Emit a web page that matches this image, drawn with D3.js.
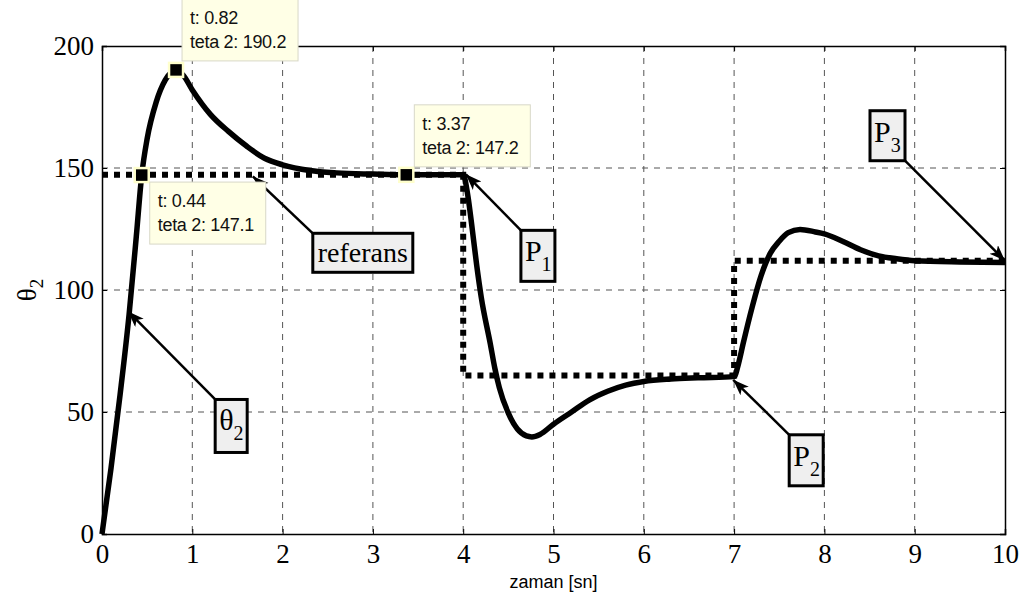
<!DOCTYPE html>
<html>
<head>
<meta charset="utf-8">
<script src="https://cdn.jsdelivr.net/npm/d3@7"></script>
<style>
  body { margin: 0; background: #fff; }
</style>
</head>
<body>
<svg id="chart" width="1027" height="603"></svg>
<script>
// response of joint 2 (degrees) over time (s)
const timeValues = [0, 0.1, 0.2, 0.3, 0.38, 0.44, 0.5, 0.6, 0.7, 0.82, 0.9, 1.0, 1.2, 1.4, 1.6, 1.8,
  2.0, 2.3, 2.6, 3.0, 3.37, 4.0, 4.05, 4.1, 4.15, 4.2, 4.3, 4.35, 4.4, 4.5, 4.6, 4.7, 4.76, 4.85,
  5.0, 5.2, 5.4, 5.6, 5.8, 6.0, 6.3, 6.6, 7.0, 7.05, 7.1, 7.2, 7.3, 7.4, 7.5, 7.6, 7.73, 7.9,
  8.0, 8.2, 8.4, 8.6, 8.8, 9.0, 9.5, 10];
const thetaValues = [0, 27, 57, 90, 122, 147.1, 162, 177, 186, 190.2, 188, 182, 172, 165, 159, 154,
  151.3, 149, 148, 147.5, 147.2, 147.2, 139, 125, 110, 97, 78, 68, 60, 49.5, 43, 40.2, 39.8, 40.8,
  45, 50, 55, 58.5, 61, 62.5, 63.5, 64, 64.5, 70, 78, 93, 106, 115, 120, 123.5, 124.8, 123.8,
  123, 120, 116.5, 114, 112.8, 112, 111.5, 111.3];

// step reference
const referenceTimes = [0, 4, 4, 7, 7, 10];
const referenceValues = [147.2, 147.2, 65, 65, 112, 112];

const xTickValues = [0, 1, 2, 3, 4, 5, 6, 7, 8, 9, 10];
const yTickValues = [0, 50, 100, 150, 200];

// data tips
const tipTimes = [0.82, 0.44, 3.37];
const tipValues = [190.2, 147.1, 147.2];
const tipLines = [["t: 0.82", "teta 2: 190.2"], ["t: 0.44", "teta 2: 147.1"], ["t: 3.37", "teta 2: 147.2"]];

// arrow notes
const noteNames = ["θ", "referans", "P", "P", "P"];
const noteSubs = ["2", "", "1", "2", "3"];
const noteTimes = [0.29, 1.67, 4.03, 6.99, 10];
const noteValues = [91.2, 146.6, 147.4, 63.2, 112];

const svg = d3.select("#chart");
const plotLeft = 102, plotRight = 1005, plotTop = 46, plotBottom = 534;
const serif = '"Liberation Serif", "Times New Roman", serif';
const sans = '"Liberation Sans", Arial, sans-serif';

const x = d3.scaleLinear().domain([0, 10]).range([plotLeft, plotRight]);
const y = d3.scaleLinear().domain([0, 200]).range([plotBottom, plotTop]);

// grid
let drawGrid = () => {
  let grid = svg.append("g").attr("class", "grid");
  grid.selectAll(".vgrid")
      .data(xTickValues.slice(1, -1))
      .enter()
      .append("line")
      .attr("x1", (d) => x(d)).attr("x2", (d) => x(d))
      .attr("y1", plotTop).attr("y2", plotBottom);
  grid.selectAll(".hgrid")
      .data(yTickValues.slice(1, -1))
      .enter()
      .append("line")
      .attr("x1", plotLeft).attr("x2", plotRight)
      .attr("y1", (d) => y(d)).attr("y2", (d) => y(d));
  grid.selectAll("line")
      .attr("stroke", "#555")
      .attr("stroke-width", 1)
      .attr("stroke-dasharray", "6,6");
};

let drawAxes = () => {
  let bottomAxis = svg.append("g")
     .attr("transform", `translate(0,${plotBottom})`)
     .call(d3.axisBottom(x).tickValues(xTickValues).tickSize(-5).tickPadding(10).tickFormat(d3.format("d")));
  let leftAxis = svg.append("g")
     .attr("transform", `translate(${plotLeft},0)`)
     .call(d3.axisLeft(y).tickValues(yTickValues).tickSize(-5).tickPadding(8).tickFormat(d3.format("d")));
  svg.append("g")
     .attr("transform", `translate(0,${plotTop})`)
     .call(d3.axisTop(x).tickValues(xTickValues).tickSize(-5).tickFormat(""));
  svg.append("g")
     .attr("transform", `translate(${plotRight},0)`)
     .call(d3.axisRight(y).tickValues(yTickValues).tickSize(-5).tickFormat(""));
  svg.selectAll(".domain").attr("stroke", "#000").attr("stroke-width", 1.5);
  svg.selectAll(".tick line").attr("stroke", "#000");
  svg.selectAll(".tick text")
     .style("font-family", serif)
     .style("font-size", "27px")
     .attr("fill", "#000");
  bottomAxis.selectAll(".tick text").attr("dy", "0.71em");
  leftAxis.selectAll(".tick text").attr("dy", "0.32em");

  svg.append("text")
     .attr("x", (plotLeft + plotRight) / 2)
     .attr("y", 588)
     .attr("text-anchor", "middle")
     .style("font-family", sans)
     .style("font-size", "18px")
     .text("zaman [sn]");

  let ylab = svg.append("text")
     .attr("transform", "translate(36,290) rotate(-90)")
     .attr("text-anchor", "middle")
     .style("font-family", serif)
     .style("font-size", "27px");
  ylab.append("tspan").text("θ");
  ylab.append("tspan").attr("dy", 7).style("font-size", "19px").text("2");
};

let drawLines = () => {
  let refLine = d3.line().x((d) => x(d[0])).y((d) => y(d[1]));
  svg.append("path")
     .attr("d", refLine(d3.zip(referenceTimes, referenceValues)))
     .attr("fill", "none")
     .attr("stroke", "#000")
     .attr("stroke-width", 6)
     .attr("stroke-dasharray", "6,6");

  let curve = d3.line().x((d) => x(d[0])).y((d) => y(d[1])).curve(d3.curveMonotoneX);
  svg.append("path")
     .attr("d", curve(d3.zip(timeValues, thetaValues)))
     .attr("fill", "none")
     .attr("stroke", "#000")
     .attr("stroke-width", 5.5)
     .attr("stroke-linejoin", "round");
};

let drawNotes = () => {
  svg.append("defs")
     .append("marker")
     .attr("id", "head")
     .attr("markerUnits", "userSpaceOnUse")
     .attr("markerWidth", 18).attr("markerHeight", 14)
     .attr("refX", 16).attr("refY", 6)
     .attr("orient", "auto")
     .append("path")
     .attr("d", "M0,0 L16,6 L0,12 L4,6 Z")
     .attr("fill", "#000");

  // box placement relative to arrow tip: [dx, dy, width, height, tail corner]
  const boxLayout = [[87, 88, 32, 53, "tl"], [60, 57, 100, 39, "tl"], [55, 56, 34, 51, "tl"],
                     [56, 55, 34, 51, "tl"], [-135, -150, 35, 50, "br"]];

  noteNames.forEach((name, i) => {
    let tx = x(noteTimes[i]), ty = y(noteValues[i]);
    let [dx, dy, w, h, corner] = boxLayout[i];
    let bx = tx + dx, by = ty + dy;
    let sx = corner === "tl" ? bx : bx + w;
    let sy = corner === "tl" ? by : by + h;
    svg.append("line")
       .attr("x1", sx).attr("y1", sy).attr("x2", tx).attr("y2", ty)
       .attr("stroke", "#000").attr("stroke-width", 2.5)
       .attr("marker-end", "url(#head)");
    svg.append("rect")
       .attr("x", bx).attr("y", by).attr("width", w).attr("height", h)
       .attr("fill", "#efefef").attr("stroke", "#000").attr("stroke-width", 3);
    let label = svg.append("text")
       .attr("x", bx + (noteSubs[i] ? 4 : w / 2))
       .attr("y", by + (noteSubs[i] ? 31 : 29))
       .attr("text-anchor", noteSubs[i] ? "start" : "middle")
       .style("font-family", serif)
       .style("font-size", noteSubs[i] ? "30px" : "28px");
    label.append("tspan").text(name);
    if (noteSubs[i]) {
      label.append("tspan").attr("dy", 10).style("font-size", "20px").text(noteSubs[i]);
    }
  });
};

let drawTips = () => {
  // box placement relative to the marked point
  const tipOffsets = [[6, -71], [8, 7], [8, -70]];
  tipTimes.forEach((t, i) => {
    let px = x(t), py = y(tipValues[i]);
    let [dx, dy] = tipOffsets[i];
    svg.append("rect")
       .attr("x", px - 7).attr("y", py - 7).attr("width", 14).attr("height", 14)
       .attr("fill", "#000").attr("stroke", "#ffffcc").attr("stroke-width", 2.5);
    svg.append("rect")
       .attr("x", px + dx).attr("y", py + dy).attr("width", 116).attr("height", 62)
       .attr("fill", "#ffffe6").attr("stroke", "#d8d8c8").attr("stroke-width", 1);
    tipLines[i].forEach((line, j) => {
      svg.append("text")
         .attr("x", px + dx + 8)
         .attr("y", py + dy + 25 + j * 24)
         .style("font-family", sans)
         .style("font-size", "18px")
         .style("letter-spacing", "-0.3px")
         .attr("fill", "#111")
         .text(line);
    });
  });
};

drawGrid();
drawLines();
drawAxes();
drawNotes();
drawTips();
</script>
</body>
</html>
